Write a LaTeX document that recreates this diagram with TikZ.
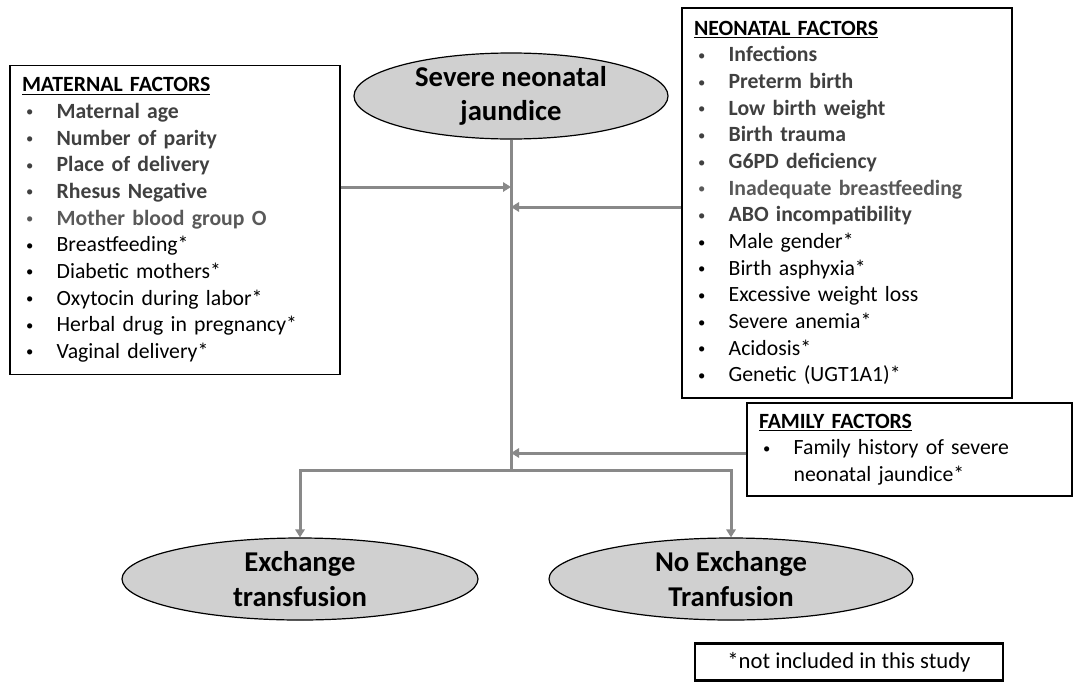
\documentclass[tikz,border=0pt]{standalone}
\usepackage{fontspec}
\setmainfont{Carlito}
\usepackage{xcolor}
\usepackage{tikz}
\usetikzlibrary{shapes.geometric,arrows.meta,positioning,calc}

\definecolor{lngray}{RGB}{137,137,137}
\definecolor{ovfill}{RGB}{208,208,208}
\definecolor{dkgray}{RGB}{64,64,64}
\definecolor{mdgray}{RGB}{89,89,89}
% plain and bold list items
\newcommand{\dotmark}{\hspace{3pt}\raisebox{1.2pt}{\fontsize{11}{11}\selectfont\textbullet}}
\newcommand{\fitem}[1]{\makebox[26pt][l]{\dotmark}#1}
\newcommand{\bitem}[2][dkgray]{{\color{#1}\makebox[26pt][l]{\dotmark}\textbf{#2}}}

\begin{document}
\begin{tikzpicture}[
  x=0.75pt,y=-0.75pt,
  box/.style={draw,line width=0.9pt,inner xsep=9pt,align=left,font=\fontsize{16.3}{20}\selectfont},
  oval/.style={draw,ellipse,line width=0.9pt,fill=ovfill,inner sep=0pt,align=center,font=\bfseries\fontsize{21.5}{26}\selectfont},
  arr/.style={-{Triangle[length=6pt,width=7pt]},draw=lngray,line width=2.25pt},
  arrs/.style={{Triangle[length=6pt,width=7pt]}-{Triangle[length=6pt,width=7pt]},draw=lngray,line width=2.25pt},
  ln/.style={draw=lngray,line width=2.25pt}
]
\useasboundingbox (0,0) rectangle (1073,682);

\node[oval,minimum width=235.5pt,minimum height=64.5pt] (sev) at (511,96) {Severe neonatal\\jaundice};

\node[box,text width=229.5pt,minimum height=231.75pt] (mat) at (175,220) {%
\underline{\textbf{MATERNAL FACTORS}}\\
\bitem{Maternal age}\\
\bitem{Number of parity}\\
\bitem{Place of delivery}\\
\bitem{Rhesus Negative}\\
\bitem[mdgray]{Mother blood group O}\\
\fitem{Breastfeeding*}\\
\fitem{Diabetic mothers*}\\
\fitem{Oxytocin during labor*}\\
\fitem{Herbal drug in pregnancy*}\\
\fitem{Vaginal delivery*}};

\node[box,text width=229.5pt,minimum height=292.5pt] (neo) at (847,203) {%
\underline{\textbf{NEONATAL FACTORS}}\\
\bitem{Infections}\\
\bitem{Preterm birth}\\
\bitem{Low birth weight}\\
\bitem{Birth trauma}\\
\bitem{G6PD deficiency}\\
\bitem[mdgray]{Inadequate breastfeeding}\\
\bitem{ABO incompatibility}\\
\fitem{Male gender*}\\
\fitem{Birth asphyxia*}\\
\fitem{Excessive weight loss}\\
\fitem{Severe anemia*}\\
\fitem{Acidosis*}\\
\fitem{Genetic (UGT1A1)*}};

\node[box,text width=225.75pt,minimum height=69.75pt] (fam) at (909.5,449.5) {%
\underline{\textbf{FAMILY FACTORS}}\\
\fitem{Family history of severe}\\
\hspace*{26pt}neonatal jaundice*};

\node[oval,minimum width=267pt,minimum height=61.5pt] (ex) at (300,579) {Exchange\\transfusion};
\node[oval,minimum width=273pt,minimum height=61.5pt] (nex) at (731,579) {No Exchange\\Tranfusion};

\node[draw,line width=1.8pt,minimum width=231pt,minimum height=28pt,font=\fontsize{17}{20}\selectfont] (note) at (849,662) {*not included in this study};

% spine and side inputs
\coordinate (ma) at (511,187);
\coordinate (na) at (511,207);
\coordinate (fa) at (511,453);
\coordinate (sp) at (511,470);
\draw[ln] (sev.south) -- (sp);
\draw[arr] (mat.east |- ma) -- (ma);
\draw[arr] (neo.west |- na) -- (na);
\draw[arr] (fam.west |- fa) -- (fa);
\draw[arrs] (ex.north) -- (ex.north |- sp) -- (nex.north |- sp) -- (nex.north);
\end{tikzpicture}
\end{document}
